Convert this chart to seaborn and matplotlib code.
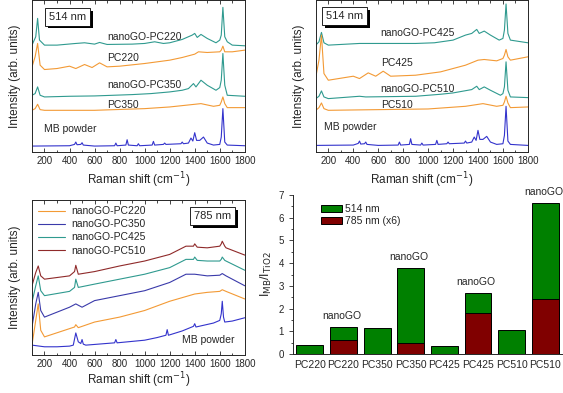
import matplotlib
matplotlib.use("Agg")
import matplotlib.pyplot as plt
import matplotlib.patheffects as pe
from matplotlib.ticker import MultipleLocator
import seaborn as sns

# ---- 514 nm, left panel ----
tl_go220_x = [100, 130, 145, 160, 200, 300, 450, 520, 600, 640, 700, 900, 1000, 1080, 1150, 1200, 1300, 1380, 1400, 1420, 1450, 1500, 1570, 1600, 1612, 1625, 1640, 1660, 1700, 1800]
tl_go220_y = [320, 345, 400, 335, 320, 320, 325, 327, 323, 328, 322, 323, 325, 330, 325, 327, 337, 350, 355, 343, 352, 340, 327, 335, 350, 433, 345, 330, 320, 318]
tl_pc220_x = [100, 125, 145, 165, 200, 300, 400, 450, 520, 580, 640, 700, 800, 1000, 1200, 1300, 1400, 1430, 1500, 1600, 1612, 1625, 1640, 1700, 1800]
tl_pc220_y = [255, 285, 325, 260, 247, 250, 257, 250, 262, 253, 267, 255, 257, 265, 275, 283, 293, 300, 298, 300, 305, 317, 300, 300, 305]
tl_go350_x = [100, 125, 145, 165, 200, 400, 600, 900, 1050, 1200, 1300, 1350, 1390, 1410, 1450, 1500, 1570, 1600, 1612, 1625, 1640, 1660, 1800]
tl_go350_y = [170, 175, 195, 170, 165, 167, 168, 172, 175, 180, 185, 190, 205, 195, 215, 200, 185, 193, 215, 295, 200, 170, 167]
tl_pc350_x = [100, 125, 145, 165, 200, 600, 1000, 1200, 1450, 1550, 1600, 1612, 1625, 1640, 1660, 1800]
tl_pc350_y = [125, 130, 143, 127, 125, 125, 130, 135, 145, 137, 140, 150, 165, 145, 133, 133]
tl_mb_x = [100, 400, 440, 450, 460, 490, 500, 510, 600, 760, 770, 780, 850, 860, 870, 940, 950, 960, 1060, 1070, 1080, 1150, 1160, 1170, 1290, 1300, 1310, 1350, 1370, 1385, 1400, 1415, 1440, 1470, 1500, 1550, 1600, 1612, 1625, 1640, 1660, 1800]
tl_mb_y = [18, 19, 23, 30, 22, 23, 28, 21, 18, 19, 27, 19, 21, 37, 21, 19, 25, 19, 21, 32, 21, 23, 27, 23, 25, 30, 25, 27, 42, 33, 58, 35, 35, 45, 27, 21, 23, 45, 130, 30, 21, 19]

# ---- 514 nm, right panel ----
tr_go425_x = [100, 125, 145, 165, 200, 450, 500, 900, 1050, 1200, 1300, 1350, 1390, 1410, 1450, 1500, 1570, 1600, 1612, 1625, 1640, 1660, 1800]
tr_go425_y = [320, 330, 358, 327, 320, 325, 325, 325, 327, 335, 350, 355, 367, 355, 362, 350, 335, 340, 365, 443, 355, 335, 327]
tr_pc425_x = [100, 125, 145, 165, 200, 400, 450, 520, 580, 640, 700, 900, 1100, 1300, 1400, 1450, 1550, 1600, 1612, 1625, 1640, 1660, 1800]
tr_pc425_y = [225, 275, 350, 235, 215, 227, 220, 237, 227, 242, 227, 230, 240, 260, 275, 277, 273, 280, 290, 307, 285, 275, 285]
tr_go510_x = [100, 125, 145, 165, 200, 450, 500, 900, 1100, 1200, 1350, 1390, 1410, 1450, 1500, 1580, 1600, 1612, 1625, 1640, 1660, 1800]
tr_go510_y = [160, 167, 183, 165, 160, 167, 165, 167, 173, 177, 187, 197, 187, 195, 185, 170, 175, 195, 270, 185, 165, 163]
tr_pc510_x = [100, 125, 145, 165, 200, 1000, 1300, 1440, 1550, 1600, 1612, 1625, 1640, 1660, 1800]
tr_pc510_y = [125, 133, 147, 130, 125, 129, 137, 145, 137, 140, 150, 167, 147, 133, 135]
tr_mb_x = tl_mb_x
tr_mb_y = [20, 21, 26, 33, 24, 25, 30, 23, 20, 21, 30, 21, 23, 40, 23, 21, 27, 21, 23, 35, 23, 25, 30, 25, 27, 33, 27, 30, 45, 35, 65, 38, 38, 47, 30, 23, 25, 50, 137, 33, 23, 20]

# ---- 785 nm panel ----
bl_go510_x = [100, 130, 150, 170, 200, 400, 440, 450, 470, 600, 800, 1000, 1200, 1330, 1390, 1400, 1420, 1500, 1600, 1612, 1620, 1640, 1650, 1800]
bl_go510_y = [210, 250, 270, 240, 230, 240, 253, 272, 245, 253, 270, 285, 305, 330, 330, 337, 327, 325, 330, 337, 345, 330, 325, 303]
bl_go425_x = bl_go510_x
bl_go425_y = [160, 210, 240, 195, 180, 193, 205, 230, 205, 215, 230, 245, 265, 290, 290, 297, 287, 285, 285, 290, 297, 287, 285, 257]
bl_go350_x = [100, 130, 150, 170, 200, 400, 450, 500, 600, 800, 1000, 1200, 1330, 1400, 1500, 1600, 1620, 1650, 1800]
bl_go350_y = [85, 155, 190, 135, 115, 145, 155, 145, 165, 180, 195, 220, 245, 245, 240, 242, 247, 240, 210]
bl_go220_x = [100, 130, 150, 170, 200, 400, 440, 450, 470, 600, 800, 1000, 1200, 1400, 1500, 1600, 1620, 1650, 1800]
bl_go220_y = [30, 105, 155, 75, 55, 80, 85, 92, 83, 100, 115, 135, 163, 185, 190, 193, 198, 193, 170]
bl_mb_x = [100, 200, 300, 400, 430, 450, 470, 490, 500, 510, 530, 760, 770, 780, 1000, 1100, 1170, 1180, 1190, 1300, 1390, 1400, 1410, 1550, 1600, 1612, 1620, 1630, 1640, 1700, 1800]
bl_mb_y = [30, 25, 25, 27, 30, 67, 40, 35, 47, 33, 30, 37, 47, 37, 45, 53, 60, 77, 60, 73, 87, 95, 85, 97, 105, 125, 163, 115, 100, 103, 113]

# ---- bar chart ----
bar_labels = ["PC220", "PC220", "PC350", "PC350", "PC425", "PC425", "PC510", "PC510"]
ratio_514 = [0.4, 1.2, 1.15, 3.8, 0.35, 2.7, 1.05, 6.65]
go_index = [1, 3, 5, 7]
ratio_785 = [0.6, 0.48, 1.8, 2.4]

teal = "#2f9a8f"
orange = "#f39a35"
blue = "#3333cc"
navy = "#3a3aaa"
darkred = "#8f2a2a"
green = "#008000"
maroon = "#800000"

sns.set_style("ticks")
plt.rcParams["font.family"] = ["Liberation Sans", "DejaVu Sans"]

fig = plt.figure(figsize=(5.63, 3.93), dpi=100)
ax1 = fig.add_axes([0.0568, 0.613, 0.378, 0.387])
ax2 = fig.add_axes([0.561, 0.613, 0.3766, 0.387])
ax3 = fig.add_axes([0.0568, 0.0966, 0.378, 0.3945])
ax4 = fig.add_axes([0.5204, 0.0992, 0.478, 0.4046])


def boxed(ax, x, y, s):
    t = ax.text(x, y, s, transform=ax.transAxes, ha="center", va="center", fontsize=8,
                bbox=dict(boxstyle="square,pad=0.35", fc="white", ec="black", lw=0.6))
    t.get_bbox_patch().set_path_effects([
        pe.SimplePatchShadow(offset=(2, -2), shadow_rgbFace="black", alpha=1.0),
        pe.Normal()])


def spec_axes(ax, ytop, pad=3):
    ax.set_xlim(100, 1800)
    ax.set_ylim(0, ytop)
    ax.xaxis.set_major_locator(MultipleLocator(200))
    ax.xaxis.set_minor_locator(MultipleLocator(100))
    ax.tick_params(axis="x", which="both", direction="in", top=True, labelsize=7, pad=3)
    ax.tick_params(axis="x", which="major", length=3, width=0.6)
    ax.tick_params(axis="x", which="minor", length=1.8, width=0.6)
    ax.set_yticks([])
    ax.set_xlabel("Raman shift (cm$^{-1}$)", fontsize=8.5, labelpad=pad)
    ax.set_ylabel("Intensity (arb. units)", fontsize=8.5, labelpad=8)
    for sp in ax.spines.values():
        sp.set_linewidth(0.7)


lw = 0.8
# top-left
for x, y, c in [(tl_go220_x, tl_go220_y, teal), (tl_pc220_x, tl_pc220_y, orange),
                (tl_go350_x, tl_go350_y, teal), (tl_pc350_x, tl_pc350_y, orange),
                (tl_mb_x, tl_mb_y, blue)]:
    sns.lineplot(x=x, y=y, ax=ax1, color=c, lw=lw)
spec_axes(ax1, 455)
for s, x, y in [("nanoGO-PC220", 700, 345), ("PC220", 700, 280), ("nanoGO-PC350", 700, 200),
                ("PC350", 700, 140), ("MB powder", 200, 70)]:
    ax1.text(x, y, s, fontsize=7.5, va="center")
boxed(ax1, 0.167, 0.89, "514 nm")

# top-right
for x, y, c in [(tr_go425_x, tr_go425_y, teal), (tr_pc425_x, tr_pc425_y, orange),
                (tr_go510_x, tr_go510_y, teal), (tr_pc510_x, tr_pc510_y, orange),
                (tr_mb_x, tr_mb_y, blue)]:
    sns.lineplot(x=x, y=y, ax=ax2, color=c, lw=lw)
spec_axes(ax2, 455)
for s, x, y in [("nanoGO-PC425", 620, 355), ("PC425", 620, 267), ("nanoGO-PC510", 620, 190),
                ("PC510", 620, 140), ("MB powder", 165, 75)]:
    ax2.text(x, y, s, fontsize=7.5, va="center")
boxed(ax2, 0.137, 0.895, "514 nm")

# bottom-left
sns.lineplot(x=bl_go220_x, y=bl_go220_y, ax=ax3, color=orange, lw=lw, label="nanoGO-PC220")
sns.lineplot(x=bl_go350_x, y=bl_go350_y, ax=ax3, color=navy, lw=lw, label="nanoGO-PC350")
sns.lineplot(x=bl_go425_x, y=bl_go425_y, ax=ax3, color=teal, lw=lw, label="nanoGO-PC425")
sns.lineplot(x=bl_go510_x, y=bl_go510_y, ax=ax3, color=darkred, lw=lw, label="nanoGO-PC510")
sns.lineplot(x=bl_mb_x, y=bl_mb_y, ax=ax3, color=blue, lw=lw)
spec_axes(ax3, 470, pad=1)
ax3.legend(loc="upper left", frameon=False, fontsize=7.5, handlelength=2.6,
           labelspacing=0.3, borderaxespad=0.2, handletextpad=0.6)
ax3.text(1300, 45, "MB powder", fontsize=7.5, va="center")
boxed(ax3, 0.85, 0.895, "785 nm")

# bar chart
idx = list(range(len(bar_labels)))
sns.barplot(x=idx, y=ratio_514, order=idx, ax=ax4, color=green, saturation=1,
            edgecolor="black", linewidth=0.7, width=0.8, label="514 nm")
sns.barplot(x=go_index, y=ratio_785, order=idx, ax=ax4, color=maroon, saturation=1,
            edgecolor="black", linewidth=0.7, width=0.8, label="785 nm (x6)")
ax4.set_xlim(-0.5, 7.5)
ax4.set_ylim(0, 7)
ax4.set_xticks(idx)
ax4.set_xticklabels(bar_labels, fontsize=7.5)
ax4.tick_params(axis="x", length=0, pad=4)
ax4.yaxis.set_major_locator(MultipleLocator(1))
ax4.yaxis.set_minor_locator(MultipleLocator(0.5))
ax4.tick_params(axis="y", which="both", direction="out", labelsize=7, width=0.6)
ax4.tick_params(axis="y", which="major", length=3)
ax4.tick_params(axis="y", which="minor", length=1.8)
sns.despine(ax=ax4)
for sp in ax4.spines.values():
    sp.set_linewidth(0.7)
ax4.set_ylabel(r"I$_{\rm MB}$/I$_{\rm TiO2}$", fontsize=9, labelpad=3)
for i in go_index:
    ax4.text(i - 0.05, ratio_514[i] + 0.25, "nanoGO", ha="center", va="bottom", fontsize=7.5)
ax4.legend(loc="upper left", bbox_to_anchor=(0.07, 1.0), frameon=False, fontsize=7.5,
           handlelength=2.0, handleheight=0.7, labelspacing=0.2, handletextpad=0.3)

fig.savefig("out.png", dpi=100)
